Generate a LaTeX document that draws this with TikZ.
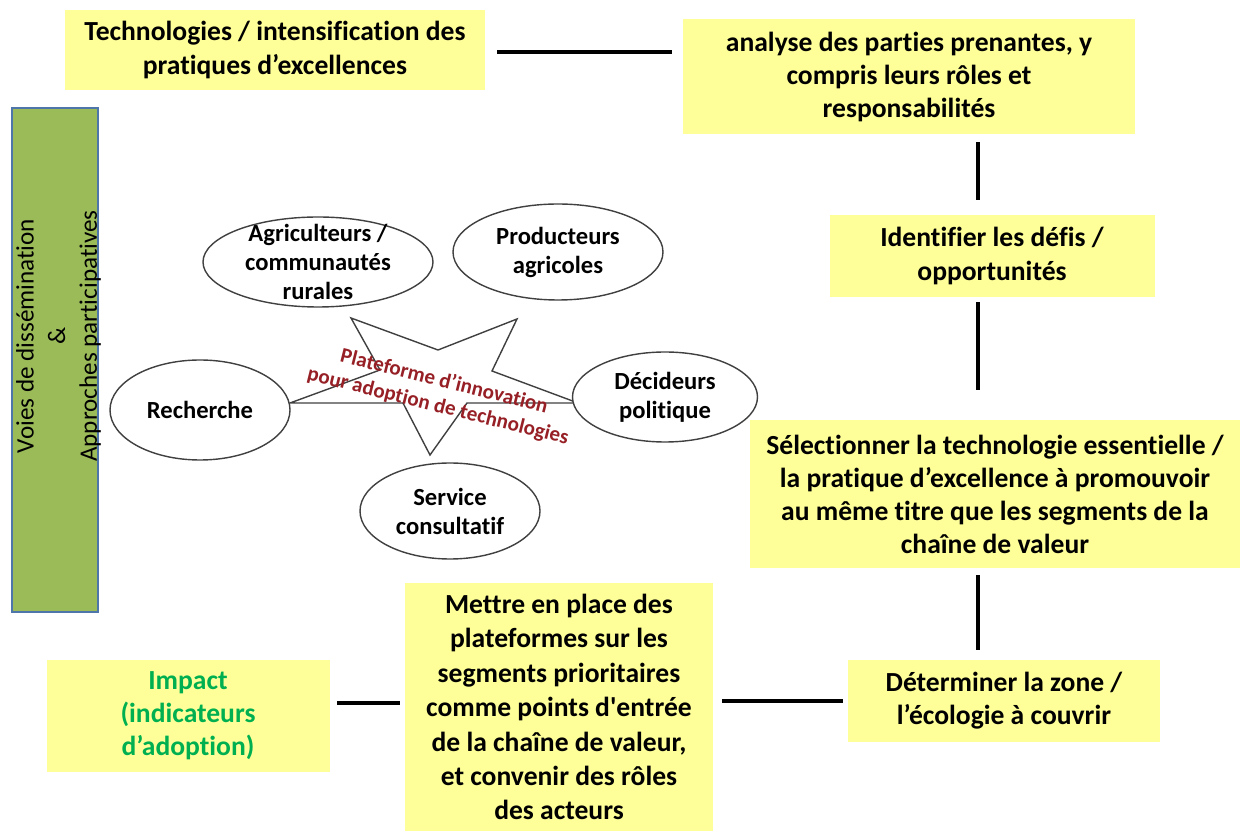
\documentclass[tikz,border=0pt]{standalone}
\usepackage{fontspec}
\setmainfont{Carlito}[Ligatures=NoCommon]
\usepackage{tikz}
\usetikzlibrary{calc}
\usetikzlibrary{shapes.geometric}
\usetikzlibrary{positioning}
\definecolor{jaune}{RGB}{255,255,153}
\definecolor{olive}{RGB}{155,187,89}
\definecolor{bleubord}{RGB}{79,118,170}
\definecolor{rougeplat}{RGB}{150,32,38}
\definecolor{vertimpact}{RGB}{0,176,80}
\tikzset{etape/.style={rectangle,fill=jaune,align=center,inner sep=2pt,font=\bfseries\fontsize{15.7}{18.8}\selectfont}}
\tikzset{acteur/.style={ellipse,draw=black!75,line width=0.8pt,fill=white,inner sep=0pt}}
\tikzset{acteurtxt/.style={align=center,font=\bfseries\fontsize{14}{16.5}\selectfont}}
\tikzset{bande/.style={rectangle,fill=olive,draw=bleubord,line width=1.7pt}}
\tikzset{lien/.style={line width=2.6pt,black}}

\begin{document}
\begin{tikzpicture}
\useasboundingbox (0,0) rectangle (24.82,16.62);

\node[etape, minimum width=8.4cm, minimum height=1.6cm] (tech) at (5.50,15.62) {Technologies / intensification des\\pratiques d’excellences};
\node[etape, minimum width=9.04cm, minimum height=2.3cm] (anal) at (18.18,15.08) {analyse des parties prenantes, y\\compris leurs rôles et\\responsabilités};
\node[etape, minimum width=6.5cm, minimum height=1.64cm] (ident) at (19.84,11.50) {Identifier les défis /\\opportunités};
\node[etape, minimum width=9.8cm, minimum height=2.96cm] (selec) at (19.90,6.74) {Sélectionner la technologie essentielle /\\la pratique d’excellence à promouvoir\\au même titre que les segments de la\\chaîne de valeur};
\node[etape, minimum width=6.24cm, minimum height=1.64cm] (determ) at (20.08,2.60) {Déterminer la zone /\\l’écologie à couvrir};
\node[etape, minimum width=6.16cm, minimum height=4.96cm, font=\bfseries\fontsize{15.7}{19.6}\selectfont] (mettre) at (11.18,2.48) {Mettre en place des\\plateformes sur les\\segments prioritaires\\comme points d\textquotesingle entrée\\de la chaîne de valeur,\\et convenir des rôles\\des acteurs};
\node[etape, minimum width=5.66cm, minimum height=2.24cm, text=vertimpact] (impact) at (3.76,2.30) {Impact\\(indicateurs\\d’adoption)};

% bande verticale
\node[bande, minimum width=1.72cm, minimum height=10.08cm] (voies) at (1.10,9.42) {};
\node[rotate=90, align=center, font=\fontsize{14.3}{18}\selectfont] (voiestxt) at ($(voies.center)+(0.07,0.48)$) {Voies de dissémination\\\&\\Approches participatives};

% plateforme (etoile)
\draw[black!75, line width=0.8pt] (7.02,10.26) -- (8.76,9.62) -- (10.34,10.24) -- (9.84,9.20) -- (11.56,8.56) -- (9.34,8.56) -- (8.60,7.52) -- (8.06,8.56) -- (5.80,8.56) -- (7.60,9.22) -- cycle;

\node[acteur, minimum width=4.6cm, minimum height=1.8cm, label={[acteurtxt]center:Agriculteurs /\\communautés\\rurales}] (agri) at (6.36,11.38) {};
\node[acteur, minimum width=4.2cm, minimum height=1.92cm, label={[acteurtxt]center:Producteurs\\agricoles}] (prod) at (11.16,11.58) {};
\node[acteur, minimum width=3.6cm, minimum height=2.0cm, label={[acteurtxt]center:Recherche}] (rech) at (4.00,8.42) {};
\node[acteur, minimum width=3.7cm, minimum height=1.8cm, label={[acteurtxt]center:Décideurs\\politique}] (decid) at (13.30,8.68) {};
\node[acteur, minimum width=3.6cm, minimum height=1.92cm, label={[acteurtxt]center:Service\\consultatif}] (serv) at (9.00,6.40) {};

\node[rotate=-14, align=center, text=rougeplat, font=\bfseries\fontsize{12}{14.5}\selectfont] (plat) at (8.82,8.74) {Plateforme d’innovation\\pour adoption de technologies};

% liens
\draw[lien, shorten <=0.24cm, shorten >=0.22cm] ([yshift=-0.04cm]tech.east) -- ([yshift=-0.04cm]tech.east -| anal.west);
\draw[lien, shorten <=0.15cm, shorten >=0.30cm] ([xshift=-0.28cm]ident.north |- anal.south) -- ([xshift=-0.28cm]ident.north);
\draw[lien, shorten <=0.10cm, shorten >=0.60cm] ([xshift=-0.28cm]ident.south) -- ([xshift=-0.28cm]ident.south |- selec.north);
\draw[lien, shorten <=0.14cm, shorten >=0.20cm] ([xshift=-0.34cm]selec.south) -- ([xshift=-0.34cm]selec.south |- determ.north);
\draw[lien, shorten <=0.10cm, shorten >=0.18cm] (determ.west) -- (determ.west -| mettre.east);
\draw[lien, shorten <=0.10cm, shorten >=0.15cm] ([yshift=0.08cm]mettre.west) -- ([yshift=0.08cm]mettre.west -| impact.east);

\end{tikzpicture}
\end{document}
